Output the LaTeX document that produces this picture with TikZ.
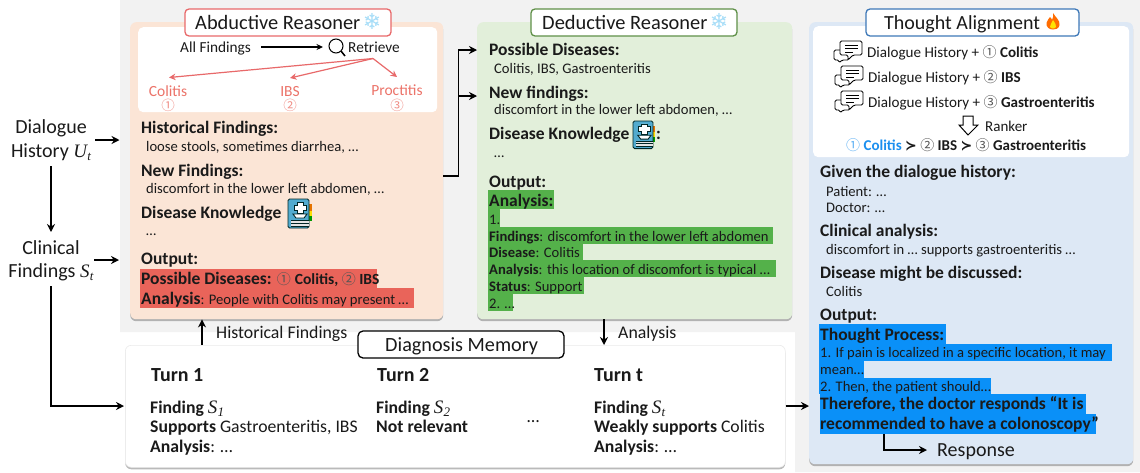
\documentclass[tikz,border=0pt]{standalone}
\usepackage{fontspec}
\setmainfont{Carlito}
\newfontfamily\symf{DejaVu Sans}
\newfontfamily\circf{Noto Sans CJK SC}
\newfontfamily\mathf{Liberation Serif}
\usetikzlibrary{arrows.meta,shadows}
\newcommand{\fs}[1]{\fontsize{#1}{#1}\selectfont}
\newcommand{\cn}[1]{{\circf\mdseries\color{digit}\fontsize{14}{14}\selectfont #1}}
\newcommand{\mv}[4]{{\mdseries\mathf\itshape\fontsize{#1}{#1}\selectfont #3\kern.3pt\raisebox{-#2pt}{\fontsize{\numexpr#1*7/10\relax}{1}\selectfont #4}}}
\definecolor{ink}{HTML}{1A1A1A}
\definecolor{digit}{HTML}{555555}
\definecolor{bgg}{HTML}{F2F2F2}
\definecolor{abdfill}{HTML}{FBE5D6}
\definecolor{dedfill}{HTML}{E2EFDA}
\definecolor{thofill}{HTML}{DDE8F5}
\definecolor{abdline}{HTML}{E8696A}
\definecolor{dedline}{HTML}{5F9048}
\definecolor{tholine}{HTML}{3E78B8}
\definecolor{abdmark}{HTML}{E9645A}
\definecolor{dedmark}{HTML}{54B14A}
\definecolor{thomark}{HTML}{0A90F8}
\definecolor{redtxt}{HTML}{EC7369}
\definecolor{bluetxt}{HTML}{1B8FEF}
\definecolor{snowc}{HTML}{A6DDF8}
\tikzset{
  x=1pt,y=-1pt,
  t/.style={anchor=base west,inner sep=0pt,text=ink,font=\fs{14.6}},
  h/.style={t,font=\fs{17.5}\bfseries},
  c/.style={anchor=base,inner sep=0pt,text=ink,font=\fs{20}},
  r/.style={anchor=base,inner sep=0pt,text=redtxt,font=\fs{15.5}},
  d/.style={anchor=center,inner sep=0pt,text=redtxt!80!white,font=\circf\fs{13.5}},
  panel/.style={anchor=north west,inner sep=0pt,rounded corners=6pt,draw=none,
    drop shadow={shadow xshift=0pt,shadow yshift=-2pt,opacity=.45,fill=black!60}},
  titlebox/.style={anchor=center,inner sep=0pt,rounded corners=4pt,fill=white,line width=1.3pt,minimum height=27pt},
  arr/.style={-{Stealth[length=8pt,width=8pt]},line width=1.75pt,black},
  rarr/.style={-{Stealth[length=6.5pt,width=6.5pt]},line width=1.2pt,abdline},
  snow/.style={anchor=center,inner sep=0pt,text=snowc,font=\symf\fs{22}},
  bookicon/.pic={
    \fill[fill=orange!90!black] (20,5) rectangle (23.5,12);
    \fill[fill=yellow!80!orange] (20,12) rectangle (23.5,17);
    \fill[fill=green!60!black] (20,17) rectangle (23.5,22);
    \draw[fill=cyan!55!teal!80!white,draw=black!70!teal,line width=.9pt,rounded corners=1.5pt] (0,0) rectangle (21,29);
    \fill[white!80!gray] (3,21) rectangle (21,27);
    \draw[black!70!teal,line width=.7pt] (3,21) -- (21,21) (3,24) -- (21,24) (3,27) -- (21,27);
    \draw[black!70!teal,line width=.7pt,fill=white] (9,3) -- (15,3) -- (15,6) -- (18,6) -- (18,11) -- (15,11) -- (15,14) -- (9,14) -- (9,11) -- (6,11) -- (6,6) -- (9,6) -- cycle;
    \draw[black!70!teal,line width=.9pt,fill=white] (5,15) -- (19,15) -- (16,19) -- (8,19) -- cycle;
  },
  chaticon/.pic={
    \draw[line width=.9pt,black,fill=white,rounded corners=1.5pt] (0,9) -- (15,9) -- (15,19) -- (8,19) -- (5,22) -- (5,19) -- (0,19) -- cycle;
    \draw[line width=.9pt,black,fill=white,rounded corners=1.5pt] (6,0) -- (28,0) -- (28,14) -- (19,14) -- (14,19) -- (14,14) -- (6,14) -- cycle;
    \draw[line width=.9pt,black] (11,4) -- (24,4) (11,7.5) -- (24,7.5) (11,11) -- (19,11);
  }
}
\begin{document}
\begin{tikzpicture}
\useasboundingbox (0,0) rectangle (1140,472);
\fill[white] (0,0) rectangle (1140,472);
\fill[bgg] (120,0) -- (1140,0) -- (1140,472) -- (795,472) -- (795,332) -- (120,332) -- cycle;

% panels
\node[panel,fill=abdfill,minimum width=313pt,minimum height=297pt] (abd) at (130,22) {};
\node[panel,fill=dedfill,minimum width=315pt,minimum height=297pt] (ded) at (477,22) {};
\node[panel,fill=thofill,minimum width=324pt,minimum height=442pt] (tho) at (809,22) {};
\node[panel,fill=white,draw=black!8,line width=.6pt,minimum width=660pt,minimum height=122pt] (mem) at (125,345) {};
\node[anchor=north west,inner sep=0pt,rounded corners=5pt,fill=white,minimum width=299pt,minimum height=85pt] (abdw) at (138,27) {};
\node[anchor=north west,inner sep=0pt,rounded corners=5pt,fill=white,minimum width=316pt,minimum height=131pt] (thow) at (813,26) {};

% title boxes
\node[titlebox,draw=abdline,minimum width=206pt] (tabd) at (288,22.5) {};
\node[titlebox,draw=dedline,minimum width=206pt] (tded) at (634,22.5) {};
\node[titlebox,draw=tholine,minimum width=213pt] (ttho) at (972.5,22.5) {};
\node[titlebox,draw=black,minimum width=206pt,rounded corners=5pt] (tmem) at (461,344.5) {};
\node[t,font=\fs{20.4}] (tabdt) at (195,29) {Abductive Reasoner};
\node[snow] (sn1) at (372,21) {❄};
\node[t,font=\fs{20.4}] (tdedt) at (542,29) {Deductive Reasoner};
\node[snow] (sn2) at (719,21) {❄};
\node[t,font=\fs{20}] (tthot) at (884,29) {Thought Alignment};
\node[t,font=\fs{20.2}] (tmemt) at (385,351) {Diagnosis Memory};
% flame
\fill[orange!85!red] (1053,13) .. controls (1056,18) and (1060,20) .. (1059.5,25) .. controls (1059,29) and (1055,29.5) .. (1053,29.5) .. controls (1049,29.5) and (1046,27) .. (1046.5,23) .. controls (1047,20) and (1049,19) .. (1050,17) .. controls (1051,18) and (1052,19) .. (1052,20) .. controls (1053,18) and (1053.5,16) .. (1053,13) -- cycle;
\fill[yellow!85!orange] (1053,20) .. controls (1055,23) and (1056.5,25) .. (1056,27) .. controls (1055,29) and (1051,29) .. (1050,27) .. controls (1049.5,25) and (1052,23) .. (1053,20) -- cycle;

% left labels
\node[c] (dh1) at (51,133) {Dialogue};
\node[c] (dh2) at (51,157) {History \mv{19}{3}{U}{t}};
\node[c] (cf1) at (51,254) {Clinical};
\node[c] (cf2) at (51,277) {Findings \mv{19}{3}{S}{t}};
\coordinate (ea) at (119.5,140);
\coordinate (eb) at (119,260);
\coordinate (ec) at (124,406);
\coordinate (ed) at (51,406);
\draw[arr] (95,140) -- (ea);
\draw[arr] (94,260) -- (eb);
\draw[arr] (dh2.south |- 0,166) -- (cf1.north |- 0,232);
\draw[arr] (cf2.south |- 0,286) -- (ed) -- (ec);

% abductive contents
\node[t,font=\fs{15.3}] (af) at (180,52) {All Findings};
\node[t,font=\fs{15.3}] (rt) at (348,52) {Retrieve};
\draw[line width=1pt,black] (336,46) circle (7pt);
\draw[line width=1.5pt,black] (341,51) -- (345,56);
\draw[arr,line width=1.3pt,-{Stealth[length=6.5pt,width=6pt]}] (261,47) -- (323,47);
\node[r] (r1) at (168,96) {Colitis};
\node[r] (r2) at (290,96) {IBS};
\node[r] (r3) at (397,95) {Proctitis};
\node[d] (d1) at (168,105) {①};
\node[d] (d2) at (290,105) {②};
\node[d] (d3) at (397,105) {③};
\coordinate (rfrom) at (373,58.5);
\draw[rarr] (rfrom) -- (169,77.5);
\draw[rarr] (rfrom) -- (290,78);
\draw[rarr] (rfrom) -- (397,77);

\node[h] (a1) at (141,133) {Historical Findings:};
\node[t] (a2) at (146,151) {loose stools, sometimes diarrhea, …};
\node[h] (a3) at (141,176) {New Findings:};
\node[t] (a4) at (146,193) {discomfort in the lower left abdomen, …};
\node[h] (a5) at (141,218) {Disease Knowledge};
\pic at (288,199) {bookicon};
\node[t] (a6) at (146,235) {…};
\node[h] (a7) at (141,264) {Output:};
\fill[abdmark] (140,269) rectangle (377,288);
\fill[abdmark] (140,288) rectangle (414,308);
\node[h] (a8) at (141,284) {Possible Diseases: {\cn{①}} \fs{15.5}Colitis, {\cn{②}} IBS};
\node[h] (a9) at (141,304) {Analysis\mdseries\fs{14.6}: People with Colitis may present …};

% deductive contents
\node[h] (b1) at (489,55) {Possible Diseases:};
\node[t] (b2) at (494,73) {Colitis, IBS, Gastroenteritis};
\node[h] (b3) at (489,98) {New findings:};
\node[t] (b4) at (494,114) {discomfort in the lower left abdomen, …};
\node[h] (b5) at (489,139) {Disease Knowledge};
\pic[scale=.95] at (633,121) {bookicon};
\node[h] (b5c) at (656,139) {:};
\node[t] (b6) at (494,157) {…};
\node[h] (b7) at (489,187) {Output:};
\fill[dedmark] (488,190) rectangle (554,209);
\fill[dedmark] (488,209) rectangle (500,227);
\fill[dedmark] (488,227) rectangle (773,244);
\fill[dedmark] (488,244) rectangle (583,260);
\fill[dedmark] (488,260) rectangle (776,277);
\fill[dedmark] (488,277) rectangle (584,294);
\fill[dedmark] (488,294) rectangle (513,311);
\node[h] (b8) at (489,206.5) {Analysis:};
\node[t] (b9) at (489,224) {1.};
\node[t] (b10) at (489,241) {\textbf{Findings}: discomfort in the lower left abdomen};
\node[t] (b11) at (489,257) {\textbf{Disease}: Colitis};
\node[t] (b12) at (489,274) {\textbf{Analysis}: this location of discomfort is typical …};
\node[t] (b13) at (489,291) {\textbf{Status}: Support};
\node[t] (b14) at (489,308) {2. …};

% thought contents
\pic at (834,41) {chaticon};
\pic at (835,66) {chaticon};
\pic at (835,91) {chaticon};
\node[t,font=\fs{15.1}] (c1) at (867,57) {Dialogue History + {\cn{①}} \textbf{Colitis}};
\node[t,font=\fs{15.1}] (c2) at (868,82) {Dialogue History + {\cn{②}} \textbf{IBS}};
\node[t,font=\fs{15.1}] (c3) at (868,107) {Dialogue History + {\cn{③}} \textbf{Gastroenteritis}};
\draw[line width=1pt,black,fill=white,line join=miter] (963,116) -- (973,116) -- (973,125) -- (978,125) -- (968,135) -- (959,125) -- (963,125) -- cycle;
\node[t,font=\fs{15}] (c4) at (985,131) {Ranker};
\node[t,font=\fs{15}\bfseries] (c5) at (846,150) {{\circf\mdseries\color{bluetxt!70!white}\fontsize{14}{14}\selectfont ①} \textcolor{bluetxt}{Colitis} {\symf\fs{14}≻} {\cn{②}} IBS {\symf\fs{14}≻} {\cn{③}} Gastroenteritis};

\node[h] (c6) at (820,177) {Given the dialogue history:};
\node[t] (c7) at (826,196) {Patient: …};
\node[t] (c8) at (826,212) {Doctor: …};
\node[h] (c9) at (820,236) {Clinical analysis:};
\node[t] (c10) at (826,254) {discomfort in … supports gastroenteritis …};
\node[h] (c11) at (820,278) {Disease might be discussed:};
\node[t] (c12) at (826,296) {Colitis};
\node[h] (c13) at (820,320) {Output:};
\fill[thomark] (819,324) rectangle (946,344);
\fill[thomark] (819,344) rectangle (1112,361);
\fill[thomark] (819,361) rectangle (864,378);
\fill[thomark] (819,378) rectangle (991,394);
\fill[thomark] (820,394) rectangle (1086,414);
\fill[thomark] (820,414) rectangle (1096,434);
\node[h] (c14) at (820,340) {Thought Process:};
\node[t] (c15) at (820,357) {1. If pain is localized in a specific location, it may};
\node[t] (c16) at (820,374) {mean…};
\node[t] (c17) at (820,391) {2. Then, the patient should…};
\node[h] (c18) at (820,409) {Therefore, the doctor responds “It is};
\node[h] (c19) at (820,429) {recommended to have a colonoscopy”};
\node[t,font=\fs{20}] (resp) at (937,456) {Response};
\coordinate (respin) at (927,450);
\coordinate (respfrom) at (884,434);
\draw[arr] (respfrom) -- (884,450) -- (respin);

% memory contents
\node[t,font=\fs{20}\bfseries] (m1) at (151,381) {Turn 1};
\node[t,font=\fs{20}\bfseries] (m2) at (377,381) {Turn 2};
\node[t,font=\fs{20}\bfseries] (m3) at (594,381) {Turn t};
\node[t,font=\fs{17.7}\bfseries] (m4) at (150,413) {Finding \mv{19}{3}{S}{1}};
\node[t,font=\fs{17.7}] (m5) at (150,432) {\textbf{Supports} Gastroenteritis, IBS};
\node[t,font=\fs{17.7}] (m6) at (150,452) {\textbf{Analysis}: …};
\node[t,font=\fs{17.7}\bfseries] (m7) at (376,413) {Finding \mv{19}{3}{S}{2}};
\node[t,font=\fs{17.7}\bfseries] (m8) at (376,432) {Not relevant};
\node[t,font=\fs{17.7}] (m9) at (527,422) {…};
\node[t,font=\fs{17.7}\bfseries] (m10) at (594,413) {Finding \mv{19}{3}{S}{t}};
\node[t,font=\fs{17.7}] (m11) at (594,432) {\textbf{Weakly supports} Colitis};
\node[t,font=\fs{17.7}] (m12) at (594,452) {\textbf{Analysis}: …};

% connectors between panels
\coordinate (ab) at (458.5,176);
\coordinate (up) at (202,345);
\coordinate (dn) at (604,319);
\draw[arr] (abd.east |- ab) -- (ab) -- (458.5,50) -- (ded.west |- 0,50);
\draw[arr] (458.5,96) -- (ded.west |- 0,96);
\draw[arr] (up) -- (abd.south -| up);
\draw[arr] (dn) -- (mem.north -| dn);
\draw[arr] (mem.east |- 0,406) -- (tho.west |- 0,406);
\node[t,font=\fs{17.8}] (hf) at (216,338) {Historical Findings};
\node[t,font=\fs{17.8}] (an) at (618,338) {Analysis};
\end{tikzpicture}
\end{document}
